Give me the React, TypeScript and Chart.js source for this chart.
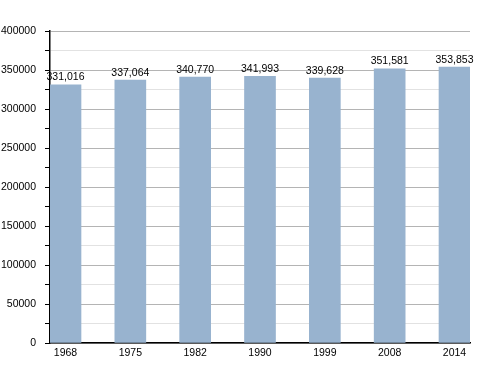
import React, { useEffect, useRef } from "react";
import { Chart, registerables } from "chart.js";

Chart.register(...registerables);

const years = ["1968", "1975", "1982", "1990", "1999", "2008", "2014"];
const population = [331016, 337064, 340770, 341993, 339628, 351581, 353853];
const yMax = 400000;
const yStep = 25000;
const yLabelStep = 50000;

const FONT = "'Liberation Sans', Arial, sans-serif";

const valueLabels = {
  id: "valueLabels",
  afterDatasetsDraw(chart: any) {
    const ctx = chart.ctx;
    const meta = chart.getDatasetMeta(0);
    ctx.save();
    ctx.font = `10.5px ${FONT}`;
    ctx.fillStyle = "#000";
    ctx.textAlign = "center";
    ctx.textBaseline = "bottom";
    meta.data.forEach((bar: any, i: number) => {
      ctx.fillText(population[i].toLocaleString("en-US"), bar.x, bar.y - 2);
    });
    ctx.restore();
  },
};

export default function App() {
  const ref = useRef<HTMLCanvasElement>(null);
  useEffect(() => {
    if (!ref.current) return;
    const chart = new Chart(ref.current, {
      type: "bar",
      data: {
        datasets: [
          {
            data: population.map((v, i) => ({ x: i, y: v })),
            backgroundColor: "#98b3cf",
            barThickness: 31,
          },
        ],
      },
      options: {
        animation: false,
        responsive: false,
        maintainAspectRatio: false,
        layout: { padding: { top: 31, right: 30, left: 0, bottom: 0 } },
        plugins: { legend: { display: false }, tooltip: { enabled: false } },
        scales: {
          x: {
            type: "linear",
            offset: false,
            min: -0.239,
            max: 6.239,
            afterBuildTicks: (scale: any) => {
              scale.ticks = years.map((_, i) => ({ value: i }));
            },
            afterFit: (scale: any) => {
              scale.height = 30;
            },
            grid: { display: true, drawOnChartArea: false, drawTicks: false },
            border: { display: true, color: "#000", width: 1.5 },
            ticks: {
              autoSkip: false,
              maxRotation: 0,
              padding: 4,
              color: "#000",
              font: { family: FONT, size: 10.5 },
              callback: (v: any) => years[Math.round(Number(v))] ?? "",
            },
          },
          y: {
            min: 0,
            max: yMax,
            afterFit: (scale: any) => {
              scale.width = 50;
            },
            grid: {
              color: (c: any) =>
                c.tick && c.tick.value % yLabelStep === 0 ? "#b4b4b4" : "#e2e2e2",
              tickColor: "#000",
              tickLength: 5,
              lineWidth: 1,
            },
            border: { display: true, color: "#000", width: 1.5 },
            ticks: {
              stepSize: yStep,
              autoSkip: false,
              padding: 9,
              color: "#000",
              font: { family: FONT, size: 10.5 },
              callback: (v: any) => (Number(v) % yLabelStep === 0 ? String(v) : ""),
            },
          },
        },
      },
      plugins: [valueLabels],
    });
    return () => chart.destroy();
  }, []);
  return (
    <div style={{ position: "fixed", left: 0, top: 0, width: 500, height: 373, background: "#fff" }}>
      <canvas ref={ref} width={500} height={373} style={{ width: 500, height: 373 }} />
    </div>
  );
}
